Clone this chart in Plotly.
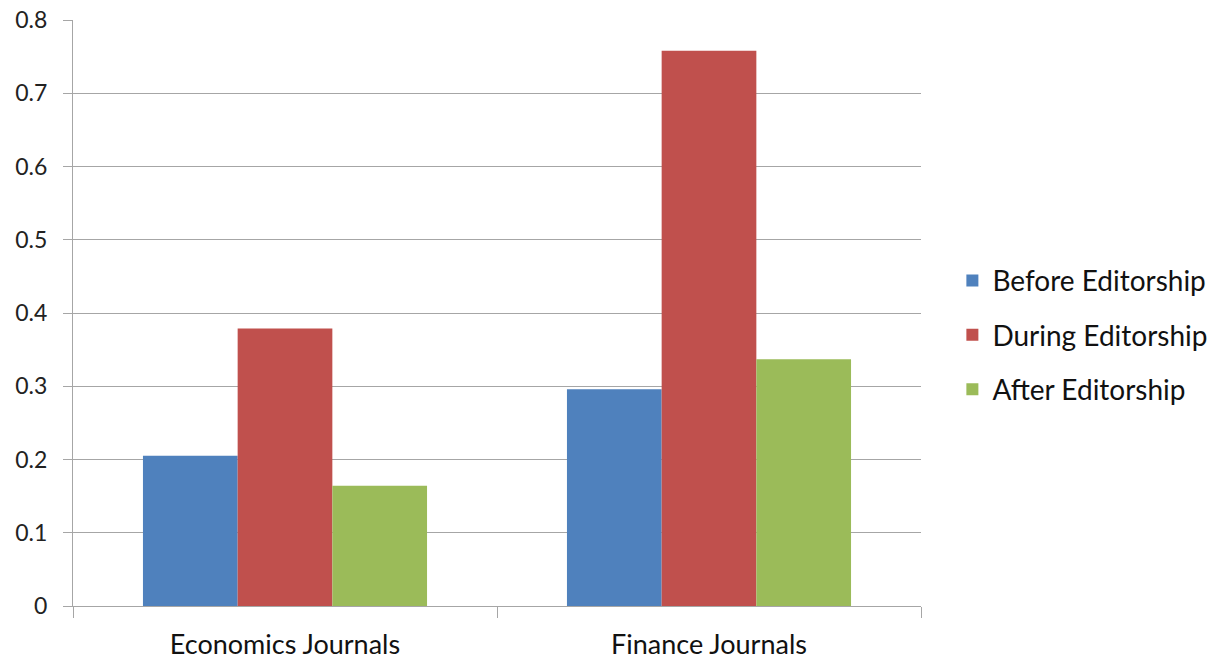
import plotly.graph_objects as go

categories = ["Economics Journals", "Finance Journals"]
series_names = ["Before Editorship", "During Editorship", "After Editorship"]
before = [0.205, 0.296]
during = [0.379, 0.758]
after = [0.164, 0.337]
colors = ["#4F81BD", "#C0504D", "#9BBB59"]
y_ticks = [0, 0.1, 0.2, 0.3, 0.4, 0.5, 0.6, 0.7, 0.8]
y_tick_labels = ["0", "0.1", "0.2", "0.3", "0.4", "0.5", "0.6", "0.7", "0.8"]

font_family = "Lato, Open Sans, Noto Sans, sans-serif"

fig = go.Figure()
for i, (name, vals) in enumerate(zip(series_names, [before, during, after])):
    fig.add_trace(go.Bar(
        x=categories, y=vals, name=name, legendgroup=name,
        marker=dict(color=colors[i], line=dict(width=0)),
    ))

fig.update_layout(
    width=1227, height=662,
    margin=dict(l=73, r=306, t=19.5, b=56, autoexpand=False),
    paper_bgcolor="white", plot_bgcolor="white",
    barmode="group", bargap=0.33, bargroupgap=0,
    font=dict(family=font_family, color="#1a1a1a"),
    legend=dict(
        x=1.037, xanchor="left", y=0.462, yanchor="middle",
        font=dict(size=28, color="#111111"),
        tracegroupgap=15, traceorder="grouped",
        bgcolor="rgba(0,0,0,0)",
    ),
    showlegend=True,
)
fig.update_xaxes(
    type="category", showline=True, linecolor="#a6a6a6", linewidth=1.3,
    ticks="outside", tickson="boundaries", ticklen=11, tickcolor="#a6a6a6",
    tickfont=dict(size=27, color="#111111"), showgrid=False,
    ticklabelstandoff=14, automargin=False,
)
fig.update_yaxes(
    range=[0, 0.8], tickvals=y_ticks, ticktext=y_tick_labels,
    showline=True, linecolor="#a6a6a6", linewidth=1.3,
    ticks="outside", ticklen=9, tickcolor="#a6a6a6",
    showgrid=True, gridcolor="#a6a6a6", gridwidth=1.3,
    tickfont=dict(size=23, color="#222222"), zeroline=False,
    ticklabelstandoff=11, automargin=False,
)

fig.write_html("out.html")
